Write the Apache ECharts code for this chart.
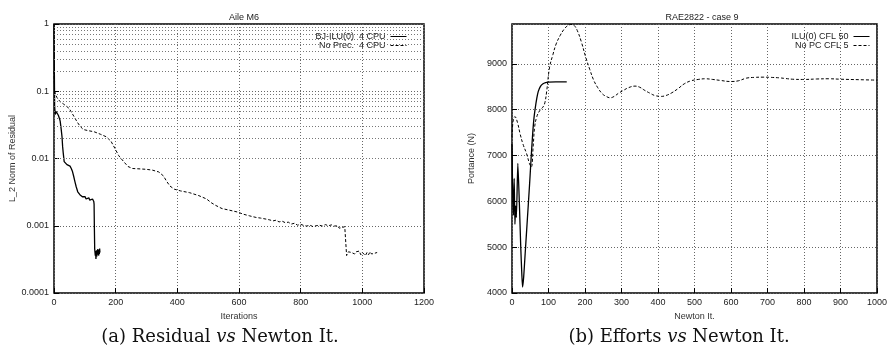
<!DOCTYPE html>
<html>
<head>
<meta charset="utf-8">
<script src="https://cdn.jsdelivr.net/npm/echarts@6/dist/echarts.min.js"></script>
<style>
  html, body {margin: 0; padding: 0; background: #fff;}
  #chart {width: 890px; height: 347px;}
</style>
</head>
<body>
<div id="chart"></div>
<script>
// (a) residual history, Aile M6
const iluResidual = [
  [0, 1], [1, 0.25], [2, 0.06], [4, 0.045], [7, 0.05], [10, 0.048], [14, 0.044], [18, 0.039],
  [20, 0.036], [23, 0.028], [26, 0.021], [28, 0.015], [30, 0.012], [33, 0.009], [36, 0.0085],
  [42, 0.0081], [47, 0.0079], [52, 0.0077], [56, 0.0071], [60, 0.0064], [64, 0.0054], [68, 0.0045],
  [72, 0.0038], [77, 0.0032], [80, 0.003], [84, 0.0029], [88, 0.0028], [92, 0.0027], [95, 0.0028],
  [98, 0.0026], [101, 0.0027], [104, 0.0025], [107, 0.0026], [110, 0.0024], [113, 0.0026],
  [116, 0.0024], [119, 0.0025], [122, 0.0023], [125, 0.0025], [127, 0.0024], [129, 0.0023],
  [130, 0.0021], [131, 0.0009], [132, 0.00045], [133, 0.0004], [134, 0.00036], [135, 0.00042],
  [136, 0.00032], [137, 0.00038], [138, 0.00043], [139, 0.00035], [140, 0.00041], [141, 0.00037],
  [142, 0.00045], [143, 0.00039], [144, 0.00043], [145, 0.00036], [146, 0.00044], [147, 0.00038],
  [148, 0.00046], [149, 0.0004]
];
const noPrecResidual = [
  [0, 0.2], [2, 0.1], [5, 0.09], [10, 0.08], [20, 0.07], [30, 0.065], [40, 0.06], [50, 0.055],
  [55, 0.05], [65, 0.042], [75, 0.035], [85, 0.03], [95, 0.027], [110, 0.026], [130, 0.025],
  [150, 0.023], [170, 0.021], [185, 0.018], [198, 0.014], [210, 0.011], [225, 0.0091], [240, 0.0076],
  [255, 0.0071], [280, 0.007], [300, 0.0069], [320, 0.0067], [340, 0.0063], [355, 0.0055],
  [365, 0.0046], [376, 0.0039], [390, 0.0035], [410, 0.0033], [440, 0.0031], [470, 0.0028],
  [495, 0.0025], [510, 0.0022], [525, 0.002], [545, 0.0018], [570, 0.0017], [595, 0.0016],
  [615, 0.00148], [635, 0.0014], [655, 0.00133], [670, 0.0013], [690, 0.00125], [700, 0.00122],
  [705, 0.00127], [710, 0.00118], [720, 0.00121], [730, 0.00114], [740, 0.00117], [750, 0.00111],
  [760, 0.00113], [770, 0.00106], [780, 0.00109], [790, 0.00102], [800, 0.00105], [810, 0.00101],
  [820, 0.00099], [830, 0.00102], [840, 0.00097], [850, 0.001], [860, 0.00102], [870, 0.00099],
  [880, 0.00104], [890, 0.001], [900, 0.00103], [910, 0.00099], [920, 0.001], [925, 0.00092],
  [935, 0.00094], [943, 0.00097], [947, 0.00094], [949, 0.00036], [955, 0.00041], [960, 0.00043],
  [965, 0.0004], [970, 0.00042], [975, 0.00038], [980, 0.00041], [985, 0.00039], [990, 0.00042],
  [995, 0.00037], [1000, 0.0004], [1005, 0.00038], [1010, 0.00036], [1015, 0.0004], [1020, 0.00037],
  [1025, 0.00041], [1030, 0.00038], [1035, 0.0004], [1040, 0.00039], [1045, 0.0004], [1048, 0.0004]
];
// minor log grid lines (2..9 x each decade)
const minorLogGrid = [
  0.0002, 0.0003, 0.0004, 0.0005, 0.0006, 0.0007, 0.0008, 0.0009,
  0.002, 0.003, 0.004, 0.005, 0.006, 0.007, 0.008, 0.009,
  0.02, 0.03, 0.04, 0.05, 0.06, 0.07, 0.08, 0.09,
  0.2, 0.3, 0.4, 0.5, 0.6, 0.7, 0.8, 0.9
];

// (b) lift history, RAE2822 case 9
const iluLift = [
  [0, 7250], [2, 6100], [4, 5700], [6, 6500], [8, 5500], [10, 5900], [12, 5650], [16, 6830],
  [20, 6000], [24, 5000], [27, 4400], [29, 4130], [32, 4350], [36, 4850], [42, 5600], [48, 6350],
  [51, 6760], [56, 7400], [60, 7800], [64, 8050], [68, 8250], [72, 8400], [78, 8510], [84, 8560],
  [92, 8590], [100, 8600], [120, 8605], [150, 8605]
];
const noPcLift = [
  [0, 7400], [3, 7750], [8, 7850], [15, 7720], [22, 7480], [30, 7250], [40, 7040], [48, 6820],
  [53, 6750], [58, 7200], [62, 7620], [68, 7850], [76, 7980], [85, 8060], [90, 8150], [95, 8400],
  [103, 8930], [112, 9200], [121, 9435], [132, 9620], [143, 9760], [152, 9830], [161, 9860],
  [170, 9840], [179, 9725], [190, 9480], [202, 9145], [213, 8880], [224, 8640], [235, 8480],
  [247, 8350], [258, 8290], [269, 8260], [280, 8290], [292, 8360], [305, 8420], [319, 8480],
  [337, 8515], [350, 8490], [364, 8420], [378, 8360], [391, 8310], [409, 8290], [422, 8310],
  [436, 8360], [455, 8460], [472, 8565], [490, 8630], [510, 8660], [530, 8675], [550, 8660],
  [570, 8640], [598, 8615], [620, 8630], [643, 8690], [665, 8705], [688, 8710], [710, 8705],
  [733, 8695], [750, 8680], [769, 8665], [800, 8660], [835, 8670], [868, 8675], [900, 8665],
  [950, 8655], [1000, 8645]
];

const font = 'Liberation Sans Narrow, Liberation Sans, Arial, sans-serif';
const gridLine = {show: true, lineStyle: {color: '#666', type: [1, 2], width: 1}};
const tick = {show: true, inside: true, length: 5, lineStyle: {color: '#000'}};
const label = {color: '#222', fontFamily: font, fontSize: 9};
const nameStyle = {color: '#333', fontFamily: font, fontSize: 9};
const legendBase = {
  orient: 'vertical', top: 27, align: 'right',
  itemWidth: 16, itemHeight: 2, itemGap: 0,
  itemStyle: {color: 'transparent', borderColor: 'transparent', borderWidth: 0},
  lineStyle: {width: 1},
  textStyle: {fontSize: 9, lineHeight: 9, color: '#222', fontFamily: 'Liberation Sans, Arial, sans-serif'}
};

const chart = echarts.init(document.getElementById('chart'));
chart.setOption({
  animation: false,
  textStyle: {fontFamily: font},
  title: [
    {text: 'Aile M6', left: 239, top: 8, textAlign: 'center',
      textStyle: {fontSize: 9, fontWeight: 'normal', color: '#222', fontFamily: font}},
    {text: 'RAE2822 - case 9', left: 697, top: 8, textAlign: 'center',
      textStyle: {fontSize: 9, fontWeight: 'normal', color: '#222', fontFamily: font}}
  ],
  legend: [
    {...legendBase, data: ['BJ-ILU(0)  4 CPU', 'No Prec.  4 CPU'], right: 478},
    {...legendBase, data: ['ILU(0) CFL 50', 'No PC CFL 5'], right: 15}
  ],
  grid: [
    {left: 54, top: 24, width: 370, height: 269, show: true, borderColor: '#000', borderWidth: 1.5},
    {left: 512, top: 24, width: 370, height: 269, show: true, borderColor: '#000', borderWidth: 1.5}
  ],
  xAxis: [
    {
      gridIndex: 0, type: 'value', min: 0, max: 1200, interval: 200,
      name: 'Iterations', nameLocation: 'middle', nameGap: 12, nameTextStyle: nameStyle,
      axisLine: {show: false}, axisTick: tick,
      axisLabel: {...label, margin: 5, formatter: v => String(v)},
      splitLine: gridLine
    },
    {
      gridIndex: 1, type: 'value', min: 0, max: 1000, interval: 100,
      name: 'Newton It.', nameLocation: 'middle', nameGap: 12, nameTextStyle: nameStyle,
      axisLine: {show: false}, axisTick: tick,
      axisLabel: {...label, margin: 5, formatter: v => String(v)},
      splitLine: gridLine
    }
  ],
  yAxis: [
    {
      gridIndex: 0, type: 'log', logBase: 10, min: 0.0001, max: 1,
      name: 'L_2 Norm of Residual', nameLocation: 'middle', nameGap: 37, nameTextStyle: nameStyle,
      axisLine: {show: false}, axisTick: tick,
      axisLabel: {...label, margin: 5, formatter: v => String(+v.toPrecision(1))},
      splitLine: gridLine
    },
    {
      gridIndex: 1, type: 'value', min: 4000, max: 9870, interval: 1000,
      name: 'Portance (N)', nameLocation: 'middle', nameGap: 36, nameTextStyle: nameStyle,
      axisLine: {show: false}, axisTick: tick,
      axisLabel: {...label, margin: 5, showMaxLabel: false, formatter: v => String(v)},
      splitLine: gridLine
    }
  ],
  series: [
    {
      name: 'BJ-ILU(0)  4 CPU', type: 'line', xAxisIndex: 0, yAxisIndex: 0,
      data: iluResidual, showSymbol: false, symbol: 'none',
      lineStyle: {color: '#000', width: 1.3}, itemStyle: {color: '#000'},
      markLine: {
        silent: true, symbol: ['none', 'none'], label: {show: false},
        lineStyle: {color: '#777', type: [1, 2], width: 1}, animation: false,
        data: minorLogGrid.map(v => ({yAxis: v}))
      },
      z: 3
    },
    {
      name: 'No Prec.  4 CPU', type: 'line', xAxisIndex: 0, yAxisIndex: 0,
      data: noPrecResidual, showSymbol: false, symbol: 'none',
      lineStyle: {color: '#000', width: 1, type: [3, 2]}, itemStyle: {color: '#000'}, z: 3
    },
    {
      name: 'ILU(0) CFL 50', type: 'line', xAxisIndex: 1, yAxisIndex: 1,
      data: iluLift, showSymbol: false, symbol: 'none', smooth: 0.2,
      lineStyle: {color: '#000', width: 1.3}, itemStyle: {color: '#000'}, z: 3
    },
    {
      name: 'No PC CFL 5', type: 'line', xAxisIndex: 1, yAxisIndex: 1,
      data: noPcLift, showSymbol: false, symbol: 'none', smooth: 0.4,
      lineStyle: {color: '#000', width: 1, type: [3, 2]}, itemStyle: {color: '#000'}, z: 3
    }
  ],
  graphic: [
    {
      type: 'text', x: 220, y: 337,
      style: {
        text: '(a) Residual {i|vs} Newton It.', fill: '#111',
        font: '18px "DejaVu Serif", serif', align: 'center', verticalAlign: 'middle',
        rich: {i: {fontStyle: 'italic', fontSize: 18, fontFamily: 'DejaVu Serif'}}
      }
    },
    {
      type: 'text', x: 679, y: 337,
      style: {
        text: '(b) Efforts {i|vs} Newton It.', fill: '#111',
        font: '18px "DejaVu Serif", serif', align: 'center', verticalAlign: 'middle',
        rich: {i: {fontStyle: 'italic', fontSize: 18, fontFamily: 'DejaVu Serif'}}
      }
    }
  ]
});
</script>
</body>
</html>
